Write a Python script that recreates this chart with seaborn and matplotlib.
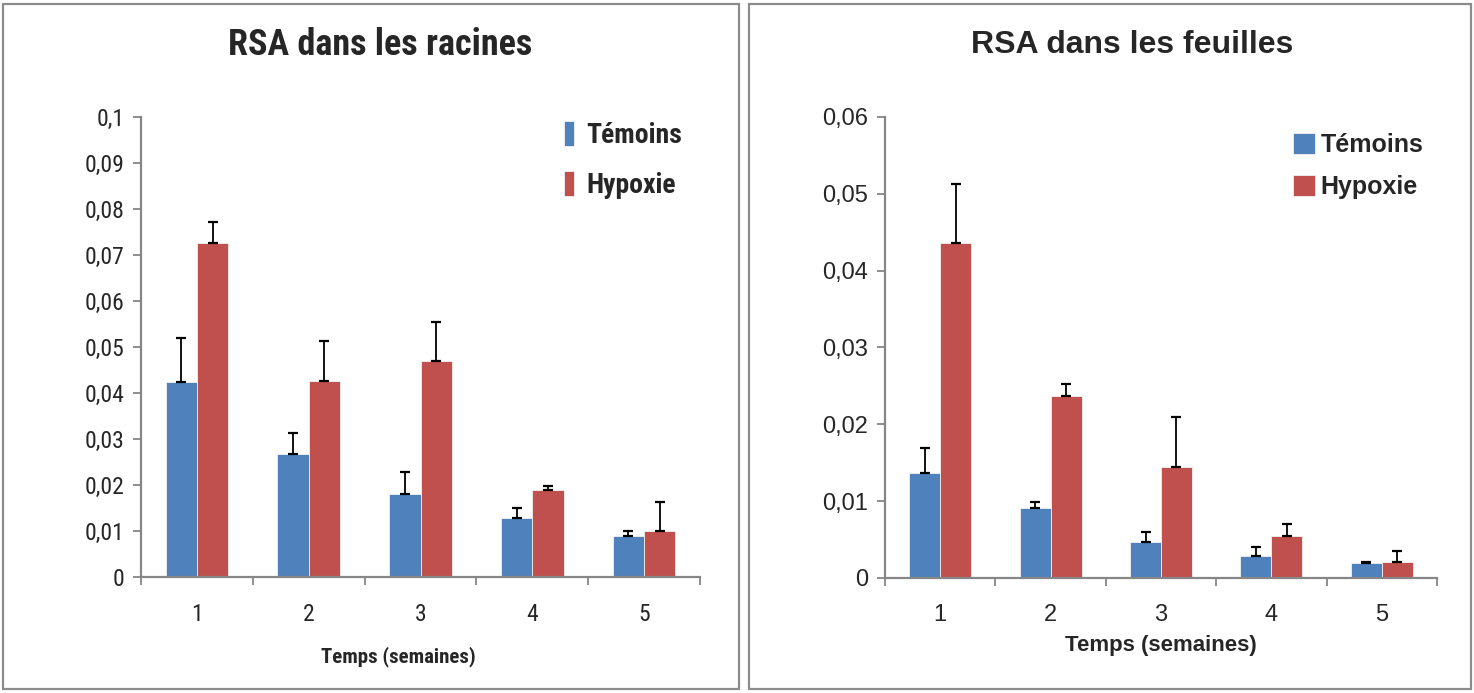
import numpy as np
import pandas as pd
import seaborn as sns
import matplotlib.pyplot as plt
from matplotlib import font_manager
from matplotlib.patches import Rectangle
from matplotlib.ticker import FixedLocator, FuncFormatter

# données
semaines = ['1', '2', '3', '4', '5']
groupes = ['Témoins', 'Hypoxie']

racines_temoins = [0.0423, 0.0268, 0.0180, 0.0129, 0.0090]
racines_hypoxie = [0.0725, 0.0427, 0.0469, 0.0190, 0.0101]
racines_err_temoins = [0.0096, 0.0045, 0.0048, 0.0022, 0.0010]
racines_err_hypoxie = [0.0046, 0.0087, 0.0085, 0.0007, 0.0062]

feuilles_temoins = [0.0136, 0.0091, 0.0047, 0.0029, 0.0020]
feuilles_hypoxie = [0.0436, 0.0237, 0.0145, 0.0054, 0.0021]
feuilles_err_temoins = [0.0033, 0.0008, 0.0013, 0.0011, 0.0001]
feuilles_err_hypoxie = [0.0077, 0.0016, 0.0064, 0.0016, 0.0014]

bleu = '#4F81BD'
rouge = '#C0504D'

sns.set_theme(style='white')
plt.rcParams['font.family'] = ['Liberation Sans', 'DejaVu Sans']

# police étroite (type Arial Narrow) pour le graphique de gauche, si disponible
polices = font_manager.fontManager.ttflist
noms = {f.name for f in polices}
etroite = None
for nom in ['Liberation Sans Narrow', 'Arial Narrow', 'Roboto Condensed',
            'Open Sans Condensed', 'Noto Sans Condensed']:
    if nom in noms:
        etroite = font_manager.FontProperties(family=nom)
        break
if etroite is None:
    cond = [f for f in polices if 'ondensed' in str(f.stretch) or 'ondensed' in f.fname
            or 'Narrow' in f.fname]
    cond.sort(key=lambda f: (0 if 'Noto' in f.fname else 1 if 'Roboto' in f.fname else 2))
    if cond:
        etroite = font_manager.FontProperties(fname=cond[0].fname)
etroite_ok = etroite is not None
if not etroite_ok:
    etroite = font_manager.FontProperties(family='Liberation Sans')


def fp(taille, gras=False):
    p = etroite.copy()
    p.set_size(taille)
    if gras:
        p.set_weight('bold')
    return p


def virgule(v, pos):
    if abs(v) < 1e-12:
        return '0'
    return f'{v:.2f}'.rstrip('0').replace('.', ',')


def panneau(ax, temoins, hypoxie, err_t, err_h, ymax, fs, prop=None):
    df = pd.DataFrame({
        'semaine': semaines * 2,
        'valeur': temoins + hypoxie,
        'groupe': [groupes[0]] * 5 + [groupes[1]] * 5,
    })
    sns.barplot(data=df, x='semaine', y='valeur', hue='groupe', order=semaines,
                hue_order=groupes, palette=[bleu, rouge], width=0.56,
                errorbar=None, ax=ax, edgecolor='#f2f2f2', linewidth=0.6,
                saturation=1)
    for cont, err in zip(ax.containers, [err_t, err_h]):
        xs = [p.get_x() + p.get_width() / 2 for p in cont]
        ys = [p.get_height() for p in cont]
        ax.errorbar(xs, ys, yerr=[np.zeros(len(err)), err], fmt='none',
                    ecolor='black', elinewidth=1.3, capsize=3.5, capthick=1.6,
                    zorder=3)
    ax.set_xlim(-0.5, 4.5)
    ax.set_ylim(0, ymax)
    ax.yaxis.set_major_locator(FixedLocator(np.linspace(0, ymax, int(round(ymax / 0.01)) + 1)))
    ax.yaxis.set_major_formatter(FuncFormatter(virgule))
    ax.xaxis.set_minor_locator(FixedLocator(np.arange(-0.5, 5.0, 1.0)))
    for s in ['top', 'right']:
        ax.spines[s].set_visible(False)
    for s in ['left', 'bottom']:
        ax.spines[s].set_color('#868686')
        ax.spines[s].set_linewidth(1.6)
    ax.tick_params(axis='y', which='major', left=True, length=6, width=1.3,
                   color='#868686', labelsize=fs, pad=6)
    ax.tick_params(axis='x', which='major', bottom=False, labelsize=fs, pad=13)
    ax.tick_params(axis='x', which='minor', bottom=True, length=6, width=1.3,
                   color='#868686')
    if prop is not None:
        for lab in ax.get_xticklabels() + ax.get_yticklabels():
            lab.set_fontproperties(prop)
    ax.set_ylabel('')
    return ax


fig = plt.figure(figsize=(14.74, 6.93), dpi=100)

# gauche : racines
k = 1.0 if etroite_ok else 0.8
ax1 = fig.add_axes([0.0957, 0.1674, 0.3792, 0.6638])
panneau(ax1, racines_temoins, racines_hypoxie, racines_err_temoins,
        racines_err_hypoxie, 0.1, 17 * k, fp(17 * k))
ax1.set_xlabel('Temps (semaines)', fontproperties=fp(15 * k, True))
ax1.xaxis.set_label_coords(0.46, -0.15)
fig.text(0.2576, 0.935, 'RSA dans les racines', ha='center', va='center',
         fontproperties=fp(26 * k, True))
ax1.legend(loc='upper right', bbox_to_anchor=(0.968, 0.991), frameon=False,
           prop=fp(20 * k, True), handlelength=0.35, handleheight=1.0,
           handletextpad=0.45, labelspacing=0.8, borderpad=0, borderaxespad=0)

# droite : feuilles
ax2 = fig.add_axes([0.6004, 0.1660, 0.3745, 0.6652])
panneau(ax2, feuilles_temoins, feuilles_hypoxie, feuilles_err_temoins,
        feuilles_err_hypoxie, 0.06, 17)
ax2.set_xlabel('Temps (semaines)', fontsize=16, fontweight='bold', labelpad=6)
fig.text(0.7679, 0.935, 'RSA dans les feuilles', ha='center', va='center',
         fontsize=23, fontweight='bold')
ax2.legend(loc='upper right', bbox_to_anchor=(0.975, 0.965), frameon=False,
           prop={'weight': 'bold', 'size': 18},
           handlelength=0.9, handleheight=0.9, handletextpad=0.2,
           labelspacing=0.72, borderpad=0, borderaxespad=0)

# cadres autour des deux graphiques
for x0, x1 in [(3, 739), (749, 1471)]:
    fig.patches.append(Rectangle((x0 / 1474, 4 / 693), (x1 - x0) / 1474, 685 / 693,
                                 transform=fig.transFigure, fill=False,
                                 edgecolor='#8c8c8c', linewidth=1.6))

fig.savefig('out.png', dpi=100)
